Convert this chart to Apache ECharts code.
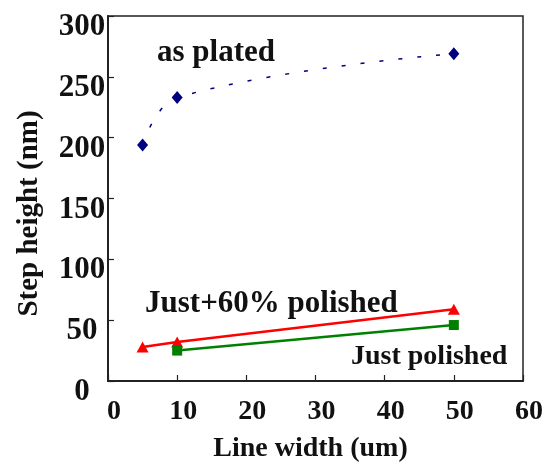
<!DOCTYPE html>
<html>
<head>
<meta charset="utf-8">
<script src="https://cdn.jsdelivr.net/npm/echarts@6/dist/echarts.min.js"></script>
<style>html,body{margin:0;padding:0;background:#fff;}#c{width:552px;height:468px;}</style>
</head>
<body>
<div id="c"></div>
<script>
// Data
const xTicks = [0, 10, 20, 30, 40, 50, 60];
const yTicks = [0, 50, 100, 150, 200, 250, 300];
const lineWidths = [5, 10, 50];
const asPlated = [194, 233, 269];
const justPlus60 = [28, 32, 59];
const justPolishedX = [10, 50];
const justPolished = [25, 46];
const annotations = [
  { text: 'as plated', left: 157, top: 37, size: 31 },
  { text: 'Just+60% polished', left: 145, top: 288, size: 31 },
  { text: 'Just polished', left: 351, top: 343, size: 28 }
];

const font = '"Liberation Serif", "Times New Roman", serif';
const chart = echarts.init(document.getElementById('c'));
chart.setOption({
  animation: false,
  backgroundColor: '#fff',
  grid: { left: 108, top: 16, right: 29, bottom: 86, show: true, borderColor: '#222', borderWidth: 1.5 },
  xAxis: {
    type: 'value', min: xTicks[0], max: xTicks[xTicks.length - 1], interval: 10,
    name: 'Line width (um)', nameLocation: 'middle', nameGap: 54,
    nameTextStyle: { fontFamily: font, fontWeight: 'bold', fontSize: 28, color: '#111', padding: [0, 10, 0, 0] },
    axisLine: { show: true, lineStyle: { color: '#222', width: 2 } },
    axisTick: { show: true, inside: true, length: 6, lineStyle: { color: '#222', width: 1.2 } },
    axisLabel: { fontFamily: font, fontWeight: 'bold', fontSize: 28, color: '#111', margin: 17, padding: [0, 0, 0, 12] },
    splitLine: { show: false }
  },
  yAxis: {
    type: 'value', min: yTicks[0], max: yTicks[yTicks.length - 1], interval: 50,
    name: 'Step height (nm)', nameLocation: 'middle', nameGap: 64,
    nameTextStyle: { fontFamily: font, fontWeight: 'bold', fontSize: 29, color: '#111', padding: [0, 30, 0, 0] },
    axisLine: { show: true, lineStyle: { color: '#222', width: 2 } },
    axisTick: { show: true, inside: true, length: 6, lineStyle: { color: '#222', width: 1.2 } },
    axisLabel: { fontFamily: font, fontWeight: 'bold', fontSize: 31, color: '#111', margin: 26, align: 'center', verticalAlign: 'top', lineHeight: 22 },
    splitLine: { show: false }
  },
  series: [
    {
      name: 'as plated', type: 'line', smooth: 0.4,
      data: lineWidths.map((x, i) => [x, asPlated[i]]),
      symbol: 'diamond', symbolSize: [11, 13],
      itemStyle: { color: '#000080' },
      lineStyle: { color: '#000080', width: 1.5, type: [4, 15] }
    },
    {
      name: 'Just+60% polished', type: 'line',
      data: lineWidths.map((x, i) => [x, justPlus60[i]]),
      symbol: 'triangle', symbolSize: [12, 11],
      itemStyle: { color: '#ff0000' },
      lineStyle: { color: '#ff0000', width: 2.5 }
    },
    {
      name: 'Just polished', type: 'line',
      data: justPolishedX.map((x, i) => [x, justPolished[i]]),
      symbol: 'rect', symbolSize: 10,
      itemStyle: { color: '#008000' },
      lineStyle: { color: '#008000', width: 2.5 }
    }
  ],
  graphic: annotations.map(a => ({
    type: 'text', left: a.left, top: a.top,
    style: { text: a.text, fontFamily: font, fontWeight: 'bold', fontSize: a.size, fill: '#111' }
  }))
});
</script>
</body>
</html>
